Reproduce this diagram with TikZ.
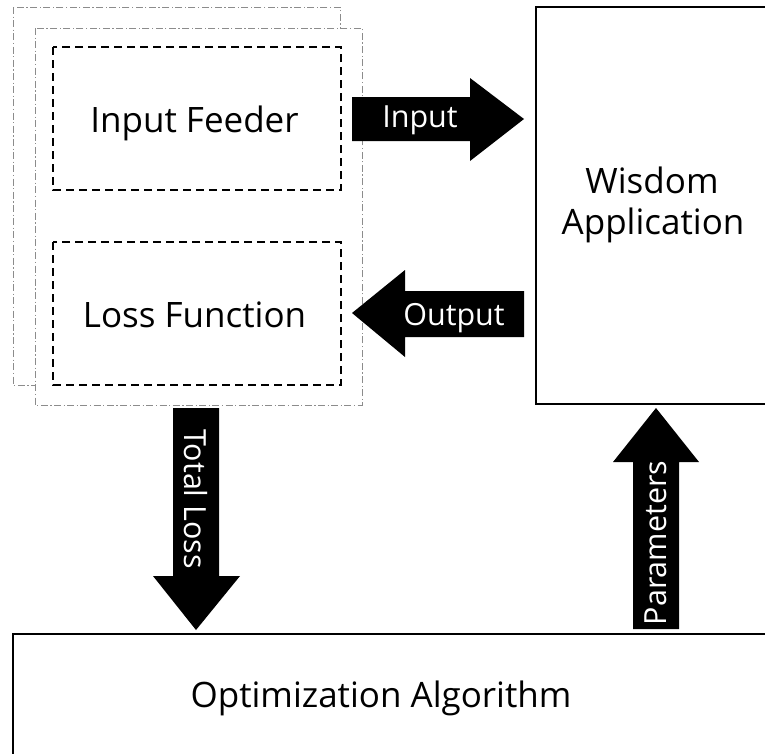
\documentclass[tikz,border=0pt]{standalone}
\usepackage{fontspec}
\setmainfont{Open Sans}
\begin{document}
\begin{tikzpicture}[x=1pt,y=-1pt,
  bigtxt/.style={font=\fontsize{35}{42}\selectfont, anchor=base, inner sep=0pt},
  arrtxt/.style={font=\fontsize{30.5}{36}\selectfont, text=white, inner sep=0pt},
  dashdotbox/.style={draw=gray!90, line width=1pt, dash pattern=on 7pt off 2.5pt on 1.2pt off 2.5pt},
  dashbox/.style={draw=black, line width=1.3pt, dash pattern=on 8pt off 5pt},
  solidbox/.style={draw=black, line width=1.6pt},
  bigarrow/.style={fill=black}
]
\useasboundingbox (0,0) rectangle (765,753);
\begin{scope}
\clip (0,0) rectangle (765,753);
% stacked dash-dot containers
\draw[dashdotbox, fill=white] (13,7) rectangle (340,385);
\draw[dashdotbox, fill=white] (35,28) rectangle (362,405);
% inner dashed boxes
\draw[dashbox] (53,47) rectangle (341,190);
\draw[dashbox] (53,242) rectangle (341,385);
\node[bigtxt] (feeder) at (194.5,132) {Input Feeder};
\node[bigtxt] (loss) at (194.5,327) {Loss Function};
% Wisdom Application box
\draw[solidbox] (536,7) rectangle (790,404);
\node[bigtxt] (wis1) at (652,193) {Wisdom};
\node[bigtxt] (wis2) at (653,234) {Application};
% Optimization box
\draw[solidbox] (13,634) rectangle (790,790);
\node[bigtxt] (opt) at (381,707) {Optimization Algorithm};
% Input arrow
\fill[bigarrow] (352,97) -- (470,97) -- (470,78) -- (524,119) -- (470,161) -- (470,141) -- (352,141) -- cycle;
\node[arrtxt, anchor=base] (inlbl) at (420,127) {Input};
% Output arrow
\fill[bigarrow] (524,291) -- (405,291) -- (405,270) -- (352,313) -- (405,357) -- (405,337) -- (524,337) -- cycle;
\node[arrtxt, anchor=base] (outlbl) at (454,325) {Output};
% Total Loss arrow
\fill[bigarrow] (173,408) -- (219,408) -- (219,576) -- (240,576) -- (196,630) -- (153,576) -- (173,576) -- cycle;
\node[arrtxt, rotate=-90] (tllbl) at (196,499) {Total Loss};
% Parameters arrow
\fill[bigarrow] (633,629) -- (679,629) -- (679,462) -- (699,462) -- (656,408) -- (613,462) -- (633,462) -- cycle;
\node[arrtxt, rotate=90] (parlbl) at (656,543) {Parameters};
\end{scope}
\end{tikzpicture}
\end{document}
